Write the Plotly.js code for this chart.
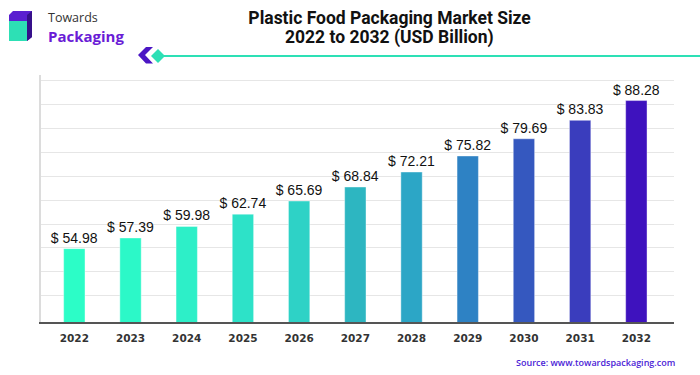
<!DOCTYPE html>
<html>
<head>
<meta charset="utf-8">
<script src="https://cdn.plot.ly/plotly-3.0.1.min.js"></script>
<style>html,body{margin:0;padding:0;background:#fff;}#chart{width:700px;height:375px;}</style>
</head>
<body>
<div id="chart"></div>
<script>
// ---- data ----
const years = ["2022","2023","2024","2025","2026","2027","2028","2029","2030","2031","2032"];
const marketSize = [54.98, 57.39, 59.98, 62.74, 65.69, 68.84, 72.21, 75.82, 79.69, 83.83, 88.28];
const barColors = ["#2CFDC7","#2CF8C8","#2DEFC8","#2DE2C8","#2ED2C6","#2DB6C1","#2CA6C6","#2E82C4","#3558BF","#3A3DBD","#3E12BE"];
const valueLabels = marketSize.map(v => "$ " + v.toFixed(2));
const titleLine1 = "Plastic Food Packaging Market Size";
const titleLine2 = "2022 to 2032 (USD Billion)";

// ---- layout helpers (pixel -> paper) ----
const L = 41, R = 26, T = 75, B = 53, W = 700, H = 375;
const PW = W - L - R, PH = H - T - B;
const px = x => (x - L) / PW;
const py = y => (H - B - y) / PH;
const P = (x, y) => px(x) + "," + py(y);
const path = pts => "M" + pts.map(p => P(p[0], p[1])).join("L") + "Z";

const yMin = 38.49, yMax = 94.03;
const gridTop = 92.75, gridStep = 5.374;
const gridVals = [];
for (let k = 0; k < 10; k++) gridVals.push(gridTop - k * gridStep);

const trace = {
  type: "bar",
  x: years,
  y: marketSize,
  text: valueLabels,
  textposition: "outside",
  constraintext: "none",
  cliponaxis: false,
  textfont: {family: "Liberation Sans, Arial, sans-serif", size: 14, color: "#111"},
  marker: {color: barColors, line: {color: "rgba(255,255,255,0.4)", width: 1}},
  hoverinfo: "x+y"
};

const titleFont = {family: "Roboto, sans-serif", size: 17.5, color: "#111", weight: "bold"};

const layout = {
  width: W, height: H,
  margin: {l: L, r: R, t: T, b: B, pad: 0},
  paper_bgcolor: "#fff", plot_bgcolor: "#fff",
  showlegend: false,
  bargap: 0.62,
  title: {
    text: titleLine1,
    font: titleFont,
    x: 0.5507, xanchor: "center", xref: "paper",
    y: 1 - 17.5 / H, yanchor: "middle", yref: "container"
  },
  xaxis: {
    type: "category",
    range: [-0.593, 10.67],
    showline: true, linecolor: "#555", linewidth: 1.5,
    ticks: "", showgrid: false, zeroline: false,
    ticklabelstandoff: 6,
    tickfont: {family: "DejaVu Sans, sans-serif", size: 10.5, color: "#333", weight: "bold"}
  },
  yaxis: {
    range: [yMin, yMax],
    tickmode: "array", tickvals: gridVals,
    showticklabels: false, ticks: "",
    showgrid: true, gridcolor: "#e6e6e6", gridwidth: 1,
    showline: true, linecolor: "#dcdcdc", linewidth: 2,
    zeroline: false
  },
  shapes: [
    // logo cube
    {type: "path", xref: "paper", yref: "paper", path: path([[9,21],[9,15],[13,11],[32,11],[32,37],[27,41],[27,21]]), fillcolor: "#5A1FD0", line: {width: 0}},
    {type: "path", xref: "paper", yref: "paper", path: path([[27,15],[32,11],[32,37],[27,41]]), fillcolor: "#36108A", line: {width: 0}},
    {type: "path", xref: "paper", yref: "paper", path: path([[9,21],[27,21],[27,41],[9,41]]), fillcolor: "#2DE0B5", line: {width: 0}},
    // divider line
    {type: "line", xref: "paper", yref: "paper", x0: px(160), x1: px(700), y0: py(56), y1: py(56), line: {color: "#2DE0B5", width: 2}},
    // chevron + diamond
    {type: "path", xref: "paper", yref: "paper", path: path([[146,47],[153,47],[145,55],[153,63.5],[146,63.5],[138,55]]), fillcolor: "#4B16C4", line: {width: 0}},
    {type: "path", xref: "paper", yref: "paper", path: path([[158,49],[165,56],[158,63],[151,56]]), fillcolor: "#2DE0B5", line: {width: 0}}
  ],
  annotations: [
    {text: titleLine2, xref: "paper", yref: "paper", x: 0.5507, y: py(37.5), xanchor: "center", yanchor: "middle", showarrow: false,
     font: titleFont},
    {text: "Towards", xref: "paper", yref: "paper", x: px(46), y: py(17.5), xanchor: "left", yanchor: "middle", showarrow: false,
     font: {family: "Open Sans, sans-serif", size: 12.5, color: "#333"}},
    {text: "Packaging", xref: "paper", yref: "paper", x: px(46), y: py(36), xanchor: "left", yanchor: "middle", showarrow: false,
     font: {family: "Open Sans, sans-serif", size: 15, color: "#6A1CD6", weight: "bold"}},
    {text: "Source: www.towardspackaging.com", xref: "paper", yref: "paper", x: px(677), y: py(362), xanchor: "right", yanchor: "middle", showarrow: false,
     font: {family: "Open Sans, sans-serif", size: 9, color: "#4B23D6", weight: 600}}
  ]
};

Plotly.newPlot("chart", [trace], layout, {displayModeBar: false, staticPlot: true});
</script>
</body>
</html>
